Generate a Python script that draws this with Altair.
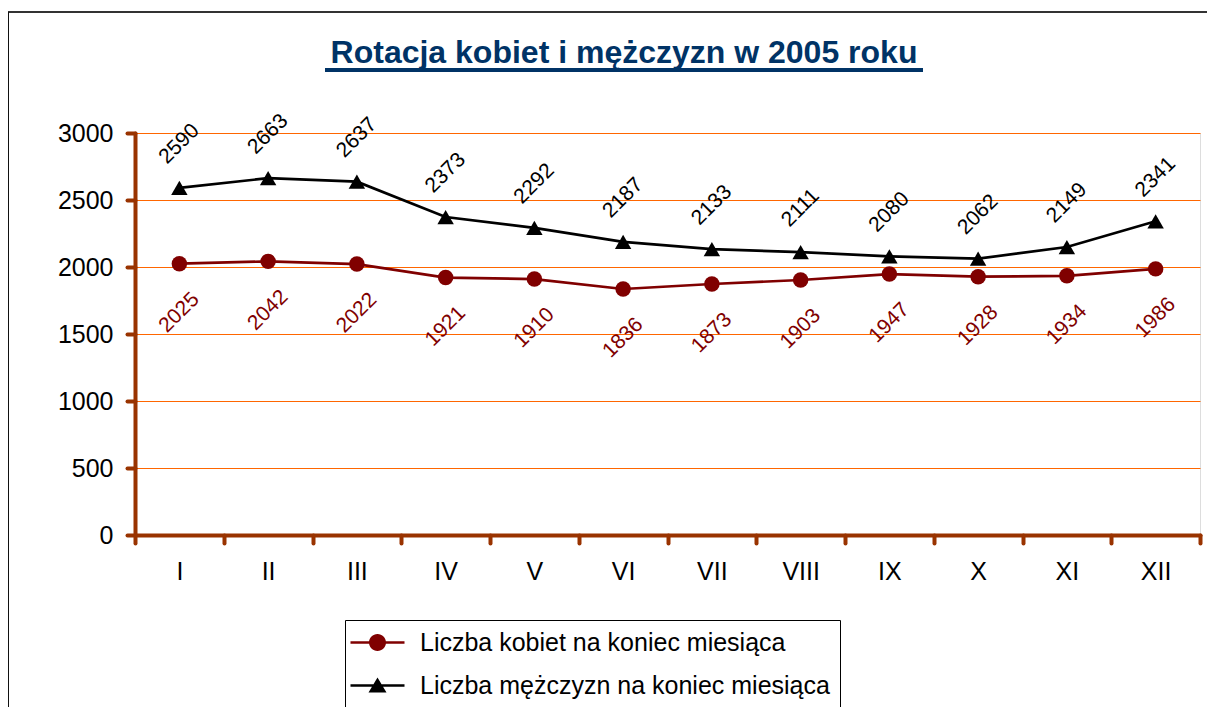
import altair as alt
import pandas as pd

months = ["I", "II", "III", "IV", "V", "VI", "VII", "VIII", "IX", "X", "XI", "XII"]
women = [2025, 2042, 2022, 1921, 1910, 1836, 1873, 1903, 1947, 1928, 1934, 1986]
men = [2590, 2663, 2637, 2373, 2292, 2187, 2133, 2111, 2080, 2062, 2149, 2341]
series_names = ["Liczba kobiet na koniec miesiąca", "Liczba mężczyzn na koniec miesiąca"]
series_colors = ["#800000", "#000000"]
y_ticks = [0, 500, 1000, 1500, 2000, 2500, 3000]
title_text = "Rotacja kobiet i mężczyzn w 2005 roku"

rows = []
for i, m in enumerate(months):
    rows.append({"month": m, "series": series_names[0], "value": women[i], "order": i})
    rows.append({"month": m, "series": series_names[1], "value": men[i], "order": i})
df = pd.DataFrame(rows)

FONT = "Liberation Sans"
BROWN = "#993300"

x = alt.X("month:N", sort=months,
          scale=alt.Scale(type="band", paddingInner=0, paddingOuter=0),
          axis=alt.Axis(title=None, labelAngle=0, tickBand="extent", labelFontSize=25,
                        labelFont=FONT, labelColor="#000000", labelPadding=16,
                        domainColor=BROWN, domainWidth=4, domainCap="round",
                        tickColor=BROWN, tickWidth=4, tickSize=8, tickCap="round"))
y = alt.Y("value:Q", scale=alt.Scale(domain=[0, 3000], nice=False),
          axis=alt.Axis(title=None, values=y_ticks, format="d", labelFontSize=25, labelFont=FONT,
                        labelColor="#000000", labelPadding=14,
                        domainColor=BROWN, domainWidth=4, domainCap="round",
                        tickColor=BROWN, tickWidth=4, tickSize=8, tickCap="round",
                        grid=True, gridColor="#FF6600", gridWidth=1))
color_nolegend = alt.Color("series:N", scale=alt.Scale(domain=series_names, range=series_colors), legend=None)

base = alt.Chart(df)

lines = base.mark_line(strokeWidth=2.7).encode(x=x, y=y, color=color_nolegend, order=alt.Order("order:Q"))

w_filter = alt.datum.series == series_names[0]
m_filter = alt.datum.series == series_names[1]

pts_w = base.transform_filter(w_filter).mark_point(shape="circle", filled=True, size=240, opacity=1).encode(
    x=x, y=y, color=color_nolegend)
pts_m = base.transform_filter(m_filter).mark_point(shape="triangle-up", filled=True, size=270, opacity=1).encode(
    x=x, y=y, color=color_nolegend)

lab_w = base.transform_filter(w_filter).mark_text(angle=315, fontSize=21, font=FONT, yOffset=49,
                                                  align="center", baseline="middle").encode(
    x=x, y=y, text=alt.Text("value:Q", format="d"), color=color_nolegend)
lab_m = base.transform_filter(m_filter).mark_text(angle=315, fontSize=21, font=FONT, yOffset=-44,
                                                  align="center", baseline="middle").encode(
    x=x, y=y, text=alt.Text("value:Q", format="d"), color=color_nolegend)

# legend symbols: line segment with marker (unit square scaled by sqrt(size)/2 = 10px)
path_w = ("M-2.7,-0.13 L2.7,-0.13 L2.7,0.13 L-2.7,0.13 Z "
          "M0.85,0 A0.85,0.85 0 1,1 -0.85,0 A0.85,0.85 0 1,1 0.85,0 Z")
path_m = ("M-2.7,-0.13 L2.7,-0.13 L2.7,0.13 L-2.7,0.13 Z "
          "M0,-0.8 L0.9,0.7 L-0.9,0.7 Z")
leg = alt.Legend(title=None, orient="none", legendX=210, legendY=487, direction="vertical",
                 labelFont=FONT, labelFontSize=25, labelColor="#000000", labelLimit=1000,
                 symbolSize=400, symbolStrokeWidth=0, symbolOpacity=1, symbolOffset=10,
                 labelOffset=30, rowPadding=17, padding=10,
                 fillColor="#FFFFFF", strokeColor="#000000")
legend_layer = base.mark_point(filled=True, opacity=0).encode(
    x=x, y=y,
    color=alt.Color("series:N", scale=alt.Scale(domain=series_names, range=series_colors), legend=leg),
    shape=alt.Shape("series:N", scale=alt.Scale(domain=series_names, range=[path_w, path_m]), legend=leg))

one = pd.DataFrame({"k": [0]})
title_mark = alt.Chart(one).mark_text(font=FONT, fontSize=32, fontWeight="bold", color="#003366",
                                      align="center", baseline="alphabetic").encode(
    x=alt.value(489), y=alt.value(-70), text=alt.value(title_text))
underline = alt.Chart(one).mark_rule(color="#003366", strokeWidth=4).encode(
    x=alt.value(190), x2=alt.value(788), y=alt.value(-63))

frame_top = alt.Chart(one).mark_rule(color="#333333", strokeWidth=2).encode(
    x=alt.value(-127), x2=alt.value(1100), y=alt.value(-121))
frame_left = alt.Chart(one).mark_rule(color="#111111", strokeWidth=2).encode(
    x=alt.value(-127), y=alt.value(-121), y2=alt.value(600))

chart = alt.layer(legend_layer, lines, pts_w, pts_m, lab_w, lab_m, title_mark, underline,
                  frame_top, frame_left).properties(
    width=1065, height=402,
    autosize=alt.AutoSizeParams(type="none"),
    padding={"left": 127, "top": 125, "right": 7, "bottom": 172},
).configure_view(stroke=BROWN, strokeWidth=2.5).configure(background="#FFFFFF")

chart.save("out.html", embed_options={"renderer": "svg", "actions": False})
